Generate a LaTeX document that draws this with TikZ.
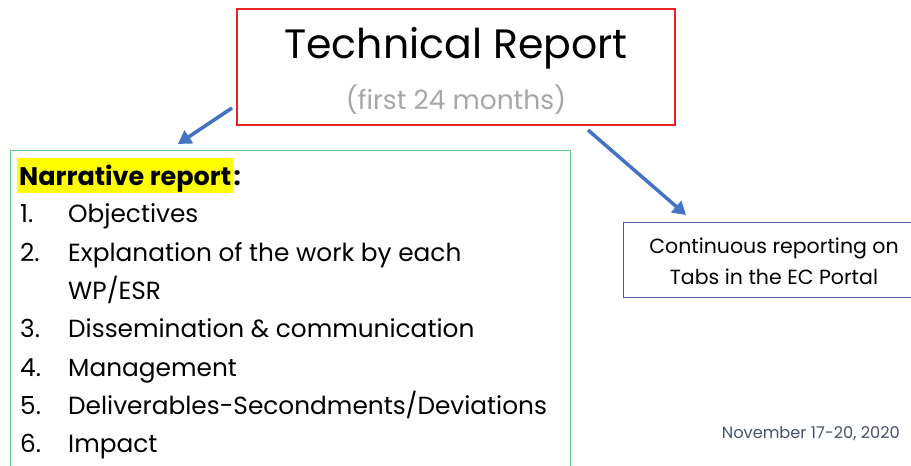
\documentclass[tikz,border=0pt]{standalone}
\usepackage{fontspec}
\setmainfont{Poppins}
\usetikzlibrary{arrows.meta}
\definecolor{tred}{RGB}{232,35,35}
\definecolor{greenbox}{RGB}{100,195,135}
\definecolor{bluebox}{RGB}{70,90,160}
\definecolor{arrowblue}{RGB}{68,114,196}
\definecolor{subgray}{RGB}{166,166,166}
\definecolor{dategray}{RGB}{68,84,106}
\definecolor{hl}{RGB}{255,255,0}
\tikzset{
  box/.style={line width=1.2pt, inner sep=0pt},
  arr/.style={draw=arrowblue, line width=3.5pt, -{Triangle[length=13pt,width=15pt]}},
  item/.style={anchor=base west, inner sep=0pt, font=\fontsize{24.8}{30}\selectfont},
}
\begin{document}
\begin{tikzpicture}[x=1pt,y=-1pt]
\useasboundingbox (0,0) rectangle (911,466);
\clip (0,0) rectangle (911,466);
% red box
\node[box, draw=tred, minimum width=438pt, minimum height=116pt] (tr) at (456,67) {};
\node[inner sep=0pt, font=\fontsize{41}{50}\selectfont] (title) at (456,48) {Technical Report};
\node[inner sep=0pt, font=\fontsize{26.5}{30}\selectfont, text=subgray] (sub) at (456,100) {(first 24 months)};
% green box
\node[box, draw=greenbox, minimum width=560pt, minimum height=340pt, anchor=north west] (nar) at (10,150) {};
\node[anchor=base west, inner sep=0pt, fill=hl, font=\fontsize{25.5}{28}\selectfont\bfseries, text depth=8pt, text height=27pt, inner xsep=2pt] (head) at (17,185) {Narrative report};
\node[anchor=base west, inner sep=0pt, font=\fontsize{25.5}{28}\selectfont\bfseries] (colon) at (head.base east) {:};
\foreach \n/\t/\yy in {1/{Objectives}/222, 2/{Explanation of the work by each}/261, 3/{Dissemination \& communication}/337, 4/{Management}/376, 5/{Deliverables-Secondments/Deviations}/414, 6/{Impact}/452}{
  \node[item] (num\n) at (20,\yy) {\n.};
  \node[item] (it\n) at (68,\yy) {\t};
}
\node[item] (it2b) at (68,299) {WP/ESR};
% blue box
\node[box, draw=bluebox, minimum width=300pt, minimum height=75pt, anchor=north west] (ec) at (623,222) {};
\node[inner sep=0pt, align=center, font=\fontsize{20.5}{31}\selectfont] (ectext) at (774,261) {Continuous reporting on\\Tabs in the EC Portal};
% date
\node[anchor=base east, inner sep=0pt, font=\fontsize{16.2}{18}\selectfont, text=dategray] (date) at (900,438) {November 17-20, 2020};
% arrows
\coordinate (a1s) at (232,108);
\coordinate (a1e) at (178,144);
\coordinate (a2s) at (588,130);
\coordinate (a2e) at (686,215);
\draw[arr] (a1s) -- (a1e);
\draw[arr] (a2s) -- (a2e);
\end{tikzpicture}
\end{document}
